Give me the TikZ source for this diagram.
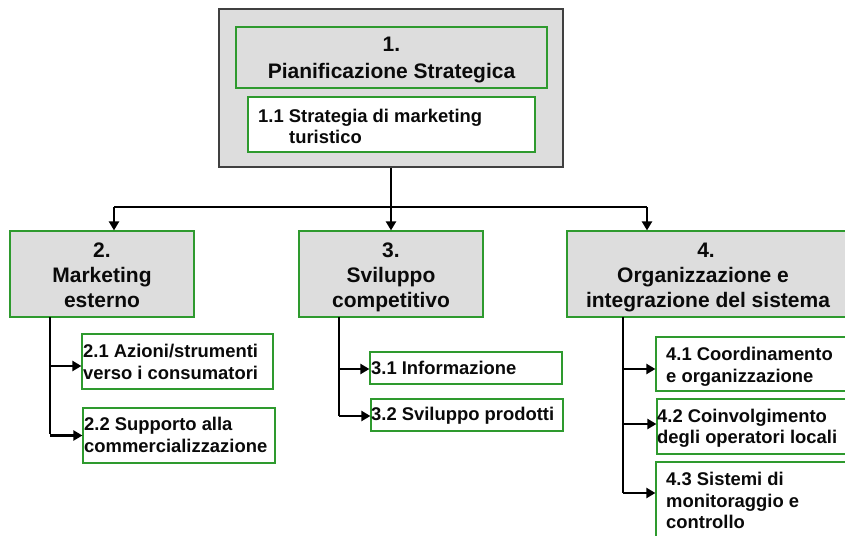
\documentclass[tikz,border=0pt]{standalone}
\usepackage{fontspec}
\setmainfont{Liberation Sans}
\usetikzlibrary{arrows.meta}
\definecolor{boxgray}{HTML}{DDDDDD}
\definecolor{boxgreen}{HTML}{2E9A2E}
\definecolor{outline}{HTML}{404040}
\definecolor{ink}{HTML}{0A0A0A}
\tikzset{
  outerbox/.style={draw=outline, line width=1.5pt, fill=boxgray, rectangle, inner sep=0pt},
  headbox/.style={draw=boxgreen, line width=1.2pt, fill=boxgray, rectangle, inner sep=0pt},
  subbox/.style={draw=boxgreen, line width=1.2pt, fill=white, rectangle, inner sep=0pt},
  maintxt/.style={inner sep=0pt, anchor=base, text=ink, font=\bfseries\fontsize{21}{25}\selectfont},
  subtxt/.style={inner sep=0pt, anchor=base west, text=ink, font=\bfseries\fontsize{18.4}{21}\selectfont},
  thickline/.style={line width=2.8pt, draw=black},
  thinline/.style={line width=1.5pt, draw=black},
  arr/.style={line width=2.8pt, draw=black, -{Triangle[length=9pt,width=10pt]}},
}
\begin{document}
\begin{tikzpicture}[x=1pt,y=-1pt]
\useasboundingbox (0,0) rectangle (845,535);
\clip (0,0) rectangle (845,535);
% boxes
\node[outerbox, minimum width=344pt, minimum height=158pt] (p1) at (391,88) {};
\node[headbox, minimum width=311pt, minimum height=61pt] (p1h) at (391.5,57.5) {};
\node[subbox, minimum width=287pt, minimum height=55pt] (p11) at (391.5,124.5) {};
\node[headbox, minimum width=184pt, minimum height=86pt] (b2) at (102,274) {};
\node[headbox, minimum width=184pt, minimum height=86pt] (b3) at (391,274) {};
\node[headbox, minimum width=290pt, minimum height=86pt] (b4) at (712,274) {};
\node[subbox, minimum width=191pt, minimum height=55pt] (b21) at (177.5,361.5) {};
\node[subbox, minimum width=192pt, minimum height=55pt] (b22) at (179,435.5) {};
\node[subbox, minimum width=192pt, minimum height=32pt] (b31) at (466,368) {};
\node[subbox, minimum width=192pt, minimum height=32pt] (b32) at (467,415) {};
\node[subbox, minimum width=200pt, minimum height=54pt] (b41) at (756,364) {};
\node[subbox, minimum width=200pt, minimum height=55pt] (b42) at (757,426.5) {};
\node[subbox, minimum width=200pt, minimum height=90pt] (b43) at (756,507) {};
% texts
\node[maintxt] (t1a) at (391.5,52) {1.};
\node[maintxt] (t1b) at (391.5,78) {Pianificazione Strategica};
\node[subtxt] (t11a) at (258,122) {1.1 Strategia di marketing};
\node[subtxt] (t11b) at (289,143) {turistico};
\node[maintxt] (t2a) at (102,257) {2.};
\node[maintxt] (t2b) at (102,282) {Marketing};
\node[maintxt] (t2c) at (102,307) {esterno};
\node[maintxt] (t3a) at (391,257) {3.};
\node[maintxt] (t3b) at (391,282) {Sviluppo};
\node[maintxt] (t3c) at (391,307) {competitivo};
\node[maintxt] (t4a) at (706,257) {4.};
\node[maintxt] (t4b) at (703,282) {Organizzazione e};
\node[maintxt] (t4c) at (708,307) {integrazione del sistema};
\node[subtxt] (t21a) at (83,357) {2.1 Azioni/strumenti};
\node[subtxt] (t21b) at (83,379) {verso i consumatori};
\node[subtxt] (t22a) at (84,430) {2.2 Supporto alla};
\node[subtxt] (t22b) at (84,452) {commercializzazione};
\node[subtxt] (t31) at (371,374) {3.1 Informazione};
\node[subtxt] (t32) at (371,420) {3.2 Sviluppo prodotti};
\node[subtxt] (t41a) at (666,360) {4.1 Coordinamento};
\node[subtxt] (t41b) at (666,382) {e organizzazione};
\node[subtxt] (t42a) at (657,422) {4.2 Coinvolgimento};
\node[subtxt] (t42b) at (657,443) {degli operatori locali};
\node[subtxt] (t43a) at (666,485) {4.3 Sistemi di};
\node[subtxt] (t43b) at (666,507) {monitoraggio e};
\node[subtxt] (t43c) at (666,528) {controllo};
% top-level connectors
\coordinate (j) at (391,207);
\coordinate (jl) at (114,207);
\coordinate (jr) at (647,207);
\draw[thickline] (p1.south) -- (j);
\draw[thinline] (jl) -- (jr);
\draw[arr] (jl) -- (jl |- b2.north);
\draw[arr] (j) -- (b3.north);
\draw[arr] (jr) -- (jr |- b4.north);
% side connectors
\coordinate (v2) at (50,317);
\coordinate (v3) at (339,317);
\coordinate (v4) at (623,317);
\draw[thinline] (v2) -- (50,434);
\draw[thinline] (v3) -- (339,416);
\draw[thinline] (v4) -- (623,493);
\draw[arr] ([yshift=-4.5pt]b21.west -| v2) -- ([yshift=-4.5pt]b21.west);
\draw[arr] (b22.west -| v2) -- (b22.west);
\draw[arr] ([yshift=-1pt]b31.west -| v3) -- ([yshift=-1pt]b31.west);
\draw[arr] ([yshift=-1pt]b32.west -| v3) -- ([yshift=-1pt]b32.west);
\draw[arr] ([yshift=-5pt]b41.west -| v4) -- ([yshift=-5pt]b41.west);
\draw[arr] ([yshift=2.5pt]b42.west -| v4) -- ([yshift=2.5pt]b42.west);
\draw[arr] ([yshift=14pt]b43.west -| v4) -- ([yshift=14pt]b43.west);
\end{tikzpicture}
\end{document}
